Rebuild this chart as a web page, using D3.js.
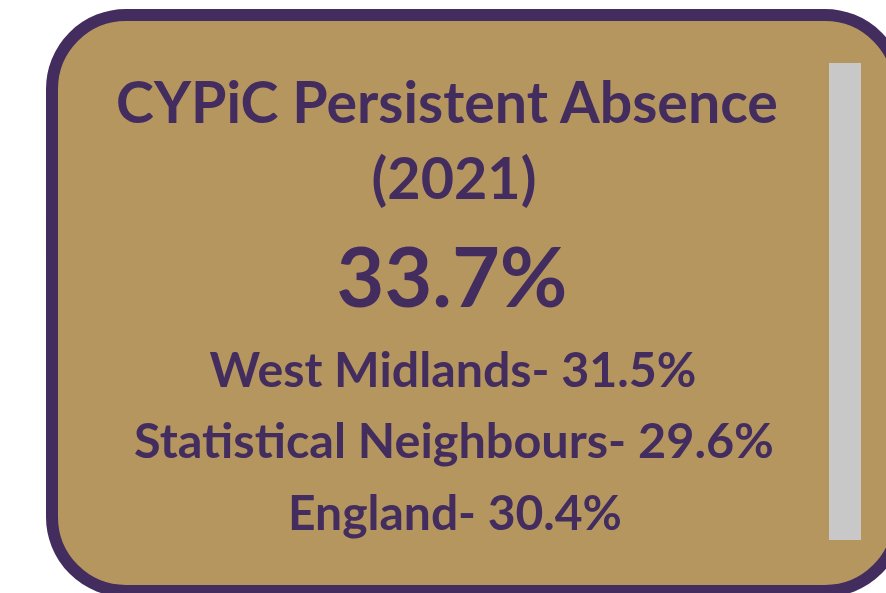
<!DOCTYPE html>
<html>
<head>
<meta charset="utf-8">
<script src="https://cdn.jsdelivr.net/npm/d3@7"></script>
<style>
  html, body { margin: 0; padding: 0; background: #fff; }
  svg { display: block; }
</style>
</head>
<body>
<div id="card"></div>
<script>
// card content
var titleLines = ["CYPiC Persistent Absence", "(2021)"];
var headline = 33.7;
var compareNames = ["West Midlands", "Statistical Neighbours", "England"];
var compareValues = [31.5, 29.6, 30.4];

var W = 886, H = 593;
var purple = "#432d5e", gold = "#b5965f", grey = "#c8c8c8";
var fmt = d3.format(".1f");

var svg = d3.select("#card").append("svg")
    .attr("width", W)
    .attr("height", H);

// rounded box, runs off the right/bottom edge like the original
svg.append("rect")
    .attr("x", 52).attr("y", 15)
    .attr("width", 847).attr("height", 576)
    .attr("rx", 74).attr("ry", 74)
    .attr("fill", gold)
    .attr("stroke", purple)
    .attr("stroke-width", 12);

// grey strip on the right
svg.append("rect")
    .attr("x", 829).attr("y", 63)
    .attr("width", 32).attr("height", 477)
    .attr("fill", grey);

// text rows: [text, centre x, baseline, target width]
var rows = [
    [titleLines[0], 447, 123, 662],
    [titleLines[1], 454, 199, 165],
    [fmt(headline) + "%", 452, 307, 231],
    [compareNames[0] + "- " + fmt(compareValues[0]) + "%", 453, 387, 487],
    [compareNames[1] + "- " + fmt(compareValues[1]) + "%", 454, 458, 640],
    [compareNames[2] + "- " + fmt(compareValues[2]) + "%", 455, 530, 334]
];

svg.selectAll("text.row")
    .data(rows)
    .enter()
    .append("text")
    .attr("class", "row")
    .attr("x", function(d) { return d[1]; })
    .attr("y", function(d) { return d[2]; })
    .attr("text-anchor", "middle")
    .attr("fill", purple)
    .style("font-family", "Lato, 'Open Sans', sans-serif")
    .style("font-weight", 700)
    .style("font-size", "50px")
    .text(function(d) { return d[0]; })
    .each(function(d) {
        // scale font so the line is as wide as in the picture
        var w = this.getComputedTextLength();
        d3.select(this).style("font-size", (50 * d[3] / w) + "px");
    });
</script>
</body>
</html>
